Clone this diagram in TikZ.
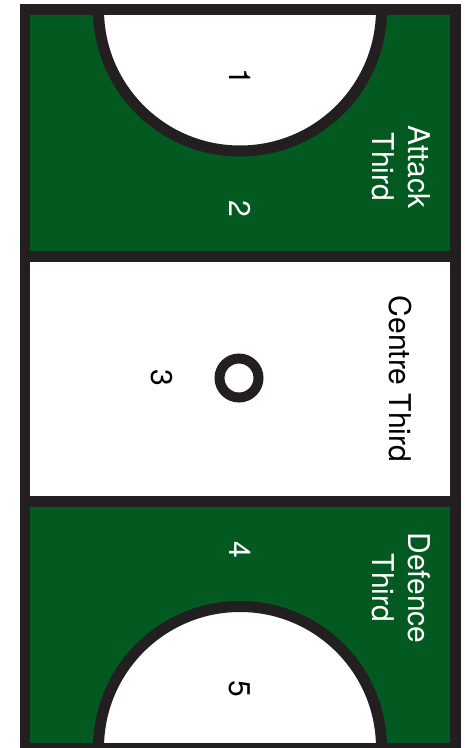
\documentclass[tikz,border=0pt]{standalone}
\usepackage{fontspec}
\setmainfont{TeX Gyre Heros}
\definecolor{courtgreen}{HTML}{025A20}
\definecolor{courtline}{HTML}{231F20}
\begin{document}
\begin{tikzpicture}[x=1pt,y=-1pt,
  lab/.style={rotate=-90,inner sep=0pt,font=\fontsize{30}{36}\selectfont,align=center},
  court/.style={draw=courtline,line width=10.5pt}]
\useasboundingbox (0,0) rectangle (465,748);
\clip (0,0) rectangle (465,748);
\fill[white] (0,0) rectangle (465,748);
% green thirds
\fill[courtgreen] (25,9.5) rectangle (455.5,256);
\fill[courtgreen] (25,501) rectangle (455.5,748);
% shooting circles
\fill[white] (98.5,9.5) arc[start angle=180,end angle=360,radius=141.5pt] -- cycle;
\fill[white] (98.5,748) arc[start angle=180,end angle=0,radius=141.5pt] -- cycle;
\draw[court,line width=11pt] (98.5,9.5) arc[start angle=180,end angle=360,radius=141.5pt];
\draw[court,line width=11pt] (98.5,748) arc[start angle=180,end angle=0,radius=141.5pt];
% outline and thirds lines
\draw[court] (25,9.5) rectangle (455.5,748);
\draw[court,line width=11pt] (25,256) -- (455.5,256);
\draw[court,line width=11pt] (25,501) -- (455.5,501);
% centre circle
\draw[court,line width=10pt] (239,378) circle[radius=19.5pt];
% labels
\node[lab,text=white] (attack) at (401,167) {Attack\\Third};
\node[lab,text=black] (centre) at (400,379) {Centre Third};
\node[lab,text=white] (defence) at (401,588) {Defence\\Third};
\node[lab,text=black] (n1) at (240,77) {1};
\node[lab,text=white] (n2) at (240,209) {2};
\node[lab,text=black] (n3) at (162,378) {3};
\node[lab,text=white] (n4) at (240,550) {4};
\node[lab,text=black] (n5) at (240,689) {5};
\end{tikzpicture}
\end{document}
